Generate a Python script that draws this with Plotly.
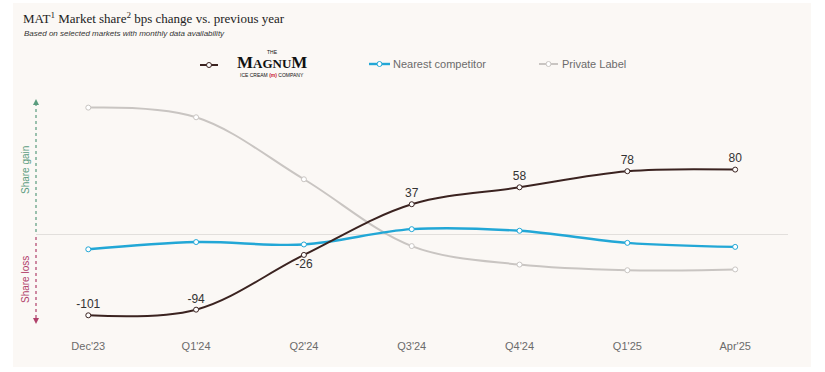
import plotly.graph_objects as go

categories = ["Dec'23", "Q1'24", "Q2'24", "Q3'24", "Q4'24", "Q1'25", "Apr'25"]
magnum = [-101, -94, -26, 37, 58, 78, 80]
competitor = [-19, -10, -13, 6, 4, -11, -16]
private_label = [157, 145, 68, -15, -38, -45, -44]
magnum_label_pos = ["top center", "top center", "bottom center", "top center",
                    "top center", "top center", "top center"]

C_MAG = "#3b2320"
C_COMP = "#22a7d6"
C_PL = "#c9c5c2"
BG = "#fbf8f5"
FONT = "Liberation Sans, Arial, sans-serif"

# plot-area geometry (pixels) used for paper-coordinate conversions
W, H = 825, 372
L, R, T, B = 36, 788, 95, 330
def px(x):
    return (x - L) / (R - L)
def py(y):
    return (B - y) / (B - T)

xs = list(range(len(categories)))

fig = go.Figure()
fig.add_trace(go.Scatter(
    x=xs, y=private_label, mode="lines+markers", line=dict(color=C_PL, width=2, shape="spline"),
    marker=dict(size=5, color="white", line=dict(color=C_PL, width=1)),
    hoverinfo="skip", showlegend=False, cliponaxis=False))
fig.add_trace(go.Scatter(
    x=xs, y=competitor, mode="lines+markers", line=dict(color=C_COMP, width=2.4, shape="spline"),
    marker=dict(size=5, color="white", line=dict(color=C_COMP, width=1)),
    hoverinfo="skip", showlegend=False, cliponaxis=False))
fig.add_trace(go.Scatter(
    x=xs, y=magnum, mode="lines+markers+text", line=dict(color=C_MAG, width=2, shape="spline"),
    marker=dict(size=5, color="white", line=dict(color=C_MAG, width=1)),
    text=[str(v) for v in magnum], textposition=magnum_label_pos,
    textfont=dict(family=FONT, size=12, color="#333333"),
    hoverinfo="skip", showlegend=False, cliponaxis=False))

shapes = []
annotations = []

# beige panel
shapes.append(dict(type="rect", xref="paper", yref="paper", layer="below",
                   x0=px(13), x1=px(811), y0=py(367), y1=py(3),
                   fillcolor=BG, line=dict(width=0)))

# dashed arrows (share gain / loss)
shapes.append(dict(type="line", xref="paper", yref="paper", x0=0, x1=0,
                   y0=py(232), y1=py(104), line=dict(color="#5a9c7e", width=1.2, dash="dot")))
shapes.append(dict(type="line", xref="paper", yref="paper", x0=0, x1=0,
                   y0=py(237), y1=py(318), line=dict(color="#b0406a", width=1.2, dash="dot")))
shapes.append(dict(type="path", xref="paper", yref="paper",
                   path=f"M {px(33)} {py(105)} L {px(39)} {py(105)} L {px(36)} {py(99)} Z",
                   fillcolor="#5a9c7e", line=dict(width=0)))
shapes.append(dict(type="path", xref="paper", yref="paper",
                   path=f"M {px(33)} {py(318)} L {px(39)} {py(318)} L {px(36)} {py(324)} Z",
                   fillcolor="#b0406a", line=dict(width=0)))
annotations.append(dict(xref="paper", yref="paper", x=px(25), y=py(170), text="Share gain",
                        textangle=-90, showarrow=False, xanchor="center", yanchor="middle",
                        font=dict(family=FONT, size=10, color="#5a9c7e")))
annotations.append(dict(xref="paper", yref="paper", x=px(25), y=py(280), text="Share loss",
                        textangle=-90, showarrow=False, xanchor="center", yanchor="middle",
                        font=dict(family=FONT, size=10, color="#b0406a")))

# titles
annotations.append(dict(xref="paper", yref="paper", x=px(21), y=py(18), xanchor="left", yanchor="middle",
                        text="MAT<sup>1</sup> Market share<sup>2</sup> bps change vs. previous year",
                        showarrow=False, font=dict(family="Liberation Serif, Georgia, serif", size=13, color="#222222")))
annotations.append(dict(xref="paper", yref="paper", x=px(22), y=py(33), xanchor="left", yanchor="middle",
                        text="<i>Based on selected markets with monthly data availability</i>",
                        showarrow=False, font=dict(family=FONT, size=8, color="#333333")))

# custom legend
def legend_item(x0, x1, y, color, width):
    shapes.append(dict(type="line", xref="paper", yref="paper", x0=px(x0), x1=px(x1),
                       y0=py(y), y1=py(y), line=dict(color=color, width=width)))
    cx = (x0 + x1) / 2
    shapes.append(dict(type="circle", xref="paper", yref="paper", xsizemode="pixel", ysizemode="pixel",
                       xanchor=px(cx), yanchor=py(y), x0=-2.5, x1=2.5, y0=-2.5, y1=2.5,
                       fillcolor="white", line=dict(color=color, width=1)))

legend_item(200, 218, 65, C_MAG, 2)
legend_item(369, 390, 64, C_COMP, 2.4)
legend_item(539, 558, 64, C_PL, 2)

annotations.append(dict(xref="paper", yref="paper", x=px(272), y=py(52), text="THE", showarrow=False,
                        xanchor="center", yanchor="middle",
                        font=dict(family=FONT, size=5, color="#111111")))
annotations.append(dict(xref="paper", yref="paper", x=px(272), y=py(62.5),
                        text="<b>M<span style='font-size:13px'>AGNU</span>M</b>",
                        showarrow=False, xanchor="center", yanchor="middle",
                        font=dict(family="Liberation Serif, Georgia, serif", size=17, color="#111111")))
annotations.append(dict(xref="paper", yref="paper", x=px(272), y=py(75),
                        text="ICE CREAM <span style='color:#c8102e'><b>(m)</b></span> COMPANY", showarrow=False,
                        xanchor="center", yanchor="middle",
                        font=dict(family=FONT, size=5, color="#111111")))
annotations.append(dict(xref="paper", yref="paper", x=px(391), y=py(64), xanchor="left", yanchor="middle",
                        text="Nearest competitor",
                        showarrow=False, font=dict(family=FONT, size=11, color="#6b6b6b")))
annotations.append(dict(xref="paper", yref="paper", x=px(560), y=py(64), xanchor="left", yanchor="middle",
                        text="Private Label",
                        showarrow=False, font=dict(family=FONT, size=11, color="#6b6b6b")))

# y scale: zero at 234 px, 0.805 px per bp
zero_px, k = 234, 0.805
y_lo = -(B - zero_px) / k
y_hi = (zero_px - T) / k

fig.update_layout(
    width=W, height=H,
    margin=dict(l=L, r=W - R, t=T, b=H - B, pad=0),
    paper_bgcolor="white", plot_bgcolor="rgba(0,0,0,0)",
    shapes=shapes, annotations=annotations,
    xaxis=dict(range=[-0.485, 6.49], tickmode="array", tickvals=xs, ticktext=categories,
               showgrid=False, zeroline=False, showline=False, ticks="",
               tickfont=dict(family=FONT, size=11, color="#6b6b6b"), ticklabelstandoff=8,
               fixedrange=True),
    yaxis=dict(range=[y_lo, y_hi], showgrid=False, showticklabels=False, ticks="",
               zeroline=True, zerolinecolor="#e2dfdc", zerolinewidth=1, showline=False,
               fixedrange=True),
    font=dict(family=FONT),
)

fig.write_html("out.html", config={"displayModeBar": False},
               post_script="document.body.style.margin='0';document.body.style.overflow='hidden';")
